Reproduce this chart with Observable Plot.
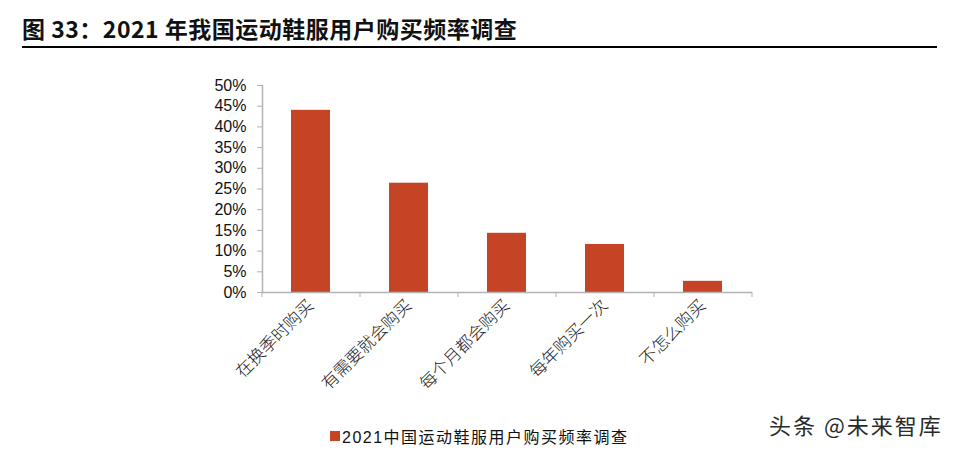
<!DOCTYPE html>
<html>
<head>
<meta charset="utf-8">
<script src="https://cdn.jsdelivr.net/npm/d3@7"></script>
<script src="https://cdn.jsdelivr.net/npm/@observablehq/plot@0.6"></script>
<style>
  html, body { margin: 0; padding: 0; background: #fff; }
  body { width: 957px; height: 450px; position: relative; overflow: hidden; }
  #title { position: absolute; left: 22px; top: 11px; font-family: "Noto Sans CJK SC", "Noto Sans", sans-serif; font-weight: bold; font-size: 23px; letter-spacing: 0.5px; color: #111; white-space: nowrap; }
  #rule { position: absolute; left: 22px; top: 46px; width: 915px; height: 2px; background: #000; }
  #chart { position: absolute; left: 0; top: 50px; }
  #legend { position: absolute; left: 330px; top: 424px; font-family: "Liberation Sans", "Noto Sans CJK SC", sans-serif; font-size: 16px; letter-spacing: 1.5px; color: #111; white-space: nowrap; display: flex; align-items: center; }
  #legend .sw { width: 10px; height: 10px; margin-right: 2px; }
  #wm { position: absolute; left: 769px; top: 408px; font-family: "Noto Sans CJK SC", sans-serif; font-size: 22px; letter-spacing: 2px; color: #2a2a2a; white-space: nowrap; }
</style>
</head>
<body>
<div id="title"></div>
<div id="rule"></div>
<div id="chart"></div>
<div id="legend"></div>
<div id="wm"></div>
<script>
const titleText = "图 33：2021 年我国运动鞋服用户购买频率调查";
const seriesName = "2021中国运动鞋服用户购买频率调查";
const watermark = "头条 @未来智库";
const categories = ["在换季时购买", "有需要就会购买", "每个月都会购买", "每年购买一次", "不怎么购买"];
const values = [0.44, 0.264, 0.143, 0.116, 0.027];
const yTicks = [0, 0.05, 0.10, 0.15, 0.20, 0.25, 0.30, 0.35, 0.40, 0.45, 0.50];

const barColor = "#C54425";
const axisColor = "#b3b3b3";

document.getElementById("title").textContent = titleText;
document.getElementById("wm").textContent = watermark;
const lg = document.getElementById("legend");
lg.innerHTML = `<span class="sw" style="background:${barColor}"></span><span></span>`;
lg.lastChild.textContent = seriesName;

const data = categories.map((c, i) => ({category: c, value: values[i]}));

const W = 957, H = 370, mL = 262, mR = 205, mT = 35, mB = 128;
const step = (W - mL - mR) / categories.length;

const chart = Plot.plot({
  width: W, height: H,
  marginLeft: mL, marginRight: mR, marginTop: mT, marginBottom: mB,
  style: {background: "transparent", color: "#111", overflow: "visible"},
  x: {domain: categories, paddingInner: 0.6, paddingOuter: 0.3, label: null},
  y: {domain: [0, 0.5], label: null},
  marks: [
    Plot.barY(data, {x: "category", y: "value", fill: barColor}),
    Plot.ruleY([0], {stroke: axisColor, strokeWidth: 1.5}),
    Plot.frame({anchor: "left", stroke: axisColor, strokeWidth: 1.5}),
    Plot.axisY({ticks: yTicks, tickSize: 5, tickPadding: 11, stroke: axisColor,
      tickFormat: d => Math.round(d * 100) + "%", fontSize: 16,
      fontFamily: "Liberation Sans, Arial, sans-serif", fill: "#111"}),
    Plot.axisX({ticks: categories, tickSize: 5, tickFormat: () => "", stroke: axisColor, dx: -step / 2}),
    Plot.axisX({ticks: categories.slice(-1), tickSize: 5, tickFormat: () => "", stroke: axisColor, dx: step / 2}),
    Plot.axisX({ticks: categories, tickSize: 0, tickPadding: 10, tickRotate: -45, fontSize: 17,
      fontFamily: "Noto Sans CJK SC, sans-serif", fontWeight: 300, fill: "#222"})
  ]
});
document.getElementById("chart").appendChild(chart);
</script>
</body>
</html>
